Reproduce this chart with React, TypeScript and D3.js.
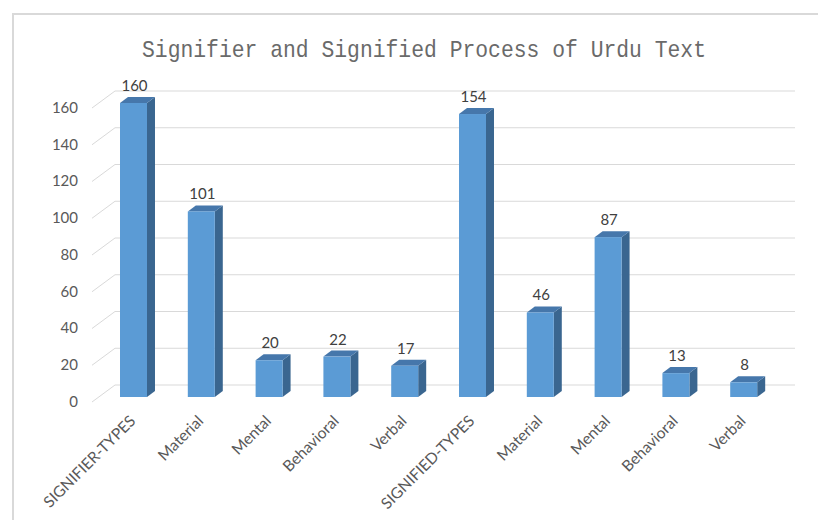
import React from "react";
import * as d3 from "d3";

const categories = [
  "SIGNIFIER-TYPES",
  "Material",
  "Mental",
  "Behavioral",
  "Verbal",
  "SIGNIFIED-TYPES",
  "Material",
  "Mental",
  "Behavioral",
  "Verbal",
];
const values = [160, 101, 20, 22, 17, 154, 46, 87, 13, 8];
const yTicks = [0, 20, 40, 60, 80, 100, 120, 140, 160];
const title = "Signifier and Signified Process of Urdu Text";

const W = 818;
const H = 520;
const DX = 8;
const DY = -6;

export default function App() {
  const x = d3
    .scaleBand<number>()
    .domain(categories.map((_, i) => i))
    .range([99.6, 777.6])
    .paddingInner(0.602)
    .paddingOuter(0.301);
  const yBack = d3.scaleLinear().domain([0, 160]).range([385, 91]);
  const yBar = d3.scaleLinear().domain([0, 160]).range([397, 103]);
  const bw = x.bandwidth();

  const front = "#5B9BD5";
  const top = "#4677AB";
  const side = "#3A6690";
  const grid = "#D9D9D9";
  const font = "Lato, 'Liberation Sans', sans-serif";

  return (
    <svg
      width={W}
      height={H}
      style={{ position: "absolute", left: 0, top: 0, background: "#fff" }}
    >
      <rect x={13} y={14} width={W + 20} height={H + 20} fill="#fff" stroke={grid} strokeWidth={2} />
      <text
        x={142}
        y={57}
        textLength={564}
        lengthAdjust="spacingAndGlyphs"
        fontFamily="'Liberation Mono', monospace"
        fontSize={24}
        fill="#6a6a6a"
      >
        {title}
      </text>
      {yTicks.map((t) => (
        <g key={t}>
          <line x1={115} x2={795} y1={yBack(t)} y2={yBack(t)} stroke={grid} strokeWidth={1} />
          <line x1={92} x2={115} y1={yBack(t) + 17} y2={yBack(t)} stroke={grid} strokeWidth={1} />
          <text
            x={78}
            y={yBack(t) + 18}
            textAnchor="end"
            dominantBaseline="middle"
            fontFamily={font}
            fontSize={15}
            fill="#595959"
          >
            {t}
          </text>
        </g>
      ))}
      {values.map((v, i) => {
        const x0 = x(i)!;
        const x1 = x0 + bw;
        const yt = yBar(v);
        const yb = yBar(0);
        return (
          <g key={i}>
            <polygon
              points={`${x1},${yt} ${x1 + DX},${yt + DY} ${x1 + DX},${yb + DY} ${x1},${yb}`}
              fill={side}
            />
            <polygon
              points={`${x0},${yt} ${x0 + DX},${yt + DY} ${x1 + DX},${yt + DY} ${x1},${yt}`}
              fill={top}
            />
            <rect x={x0} y={yt} width={bw} height={yb - yt} fill={front} />
            <text
              x={x0 + bw / 2 + 1}
              y={yt - 12}
              textAnchor="middle"
              fontFamily={font}
              fontSize={15}
              fill="#404040"
            >
              {v}
            </text>
            <text
              transform={`translate(${x0 + bw / 2 + 3},${422}) rotate(-45)`}
              textAnchor="end"
              fontFamily={font}
              fontSize={15.5}
              fill="#595959"
            >
              {categories[i]}
            </text>
          </g>
        );
      })}
    </svg>
  );
}
